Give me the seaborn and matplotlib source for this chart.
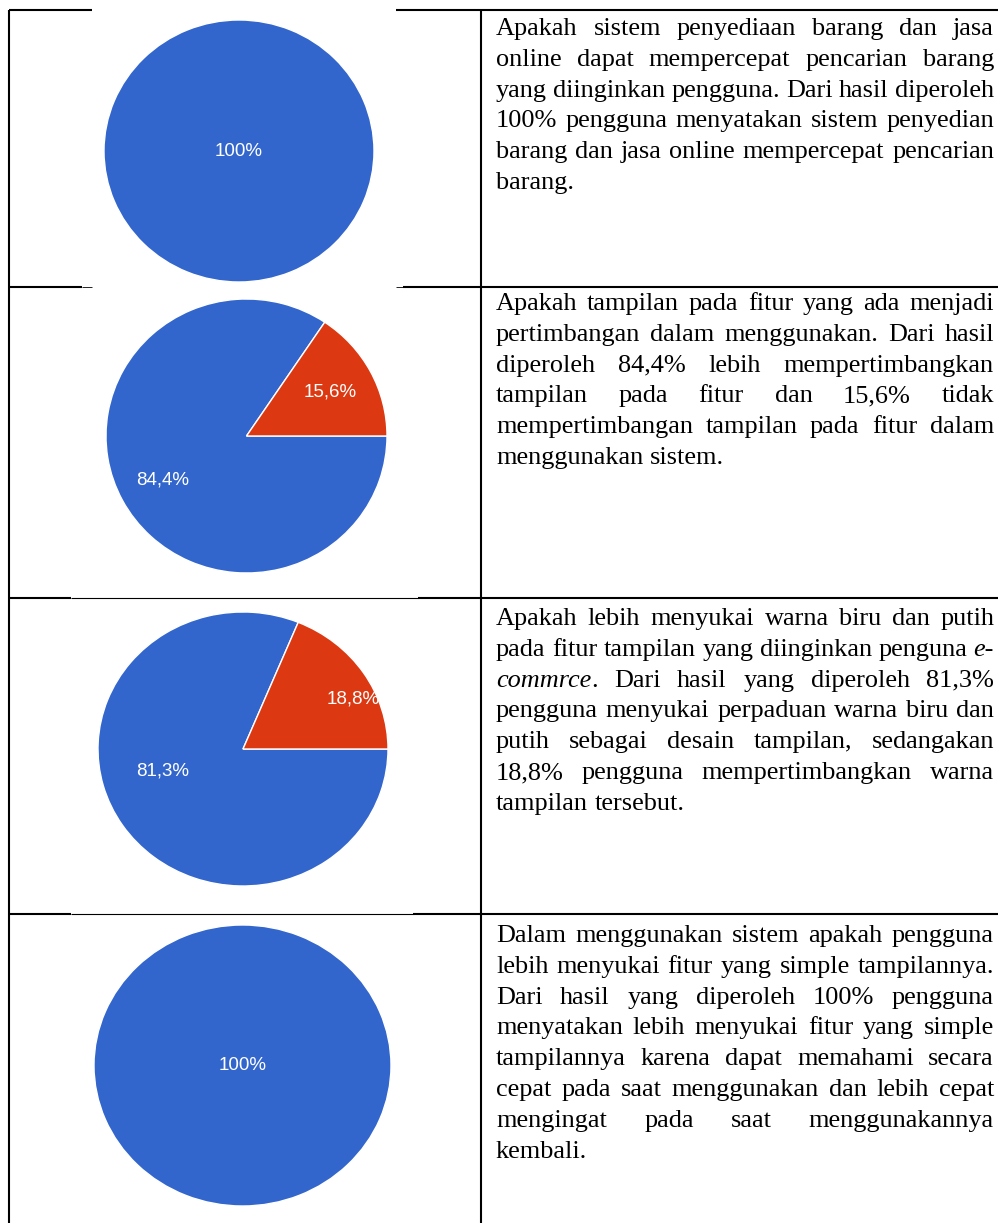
import re
import numpy as np
import matplotlib
matplotlib.use('Agg')
import matplotlib.pyplot as plt
import matplotlib.transforms as mtransforms
from matplotlib.lines import Line2D
import seaborn as sns

# data: jawaban kuesioner (persen)
q1_labels = ['Ya']
q1_values = [100]
q2_labels = ['Ya', 'Tidak']
q2_values = [84.4, 15.6]
q3_labels = ['Ya', 'Tidak']
q3_values = [81.3, 18.8]
q4_labels = ['Ya']
q4_values = [100]

# teks penjelasan tiap baris (baris sudah dipotong seperti di dokumen, _..._ = miring)
q1_text = [
    "Apakah sistem penyediaan barang dan jasa",
    "online dapat mempercepat pencarian barang",
    "yang diinginkan pengguna. Dari hasil diperoleh",
    "100% pengguna menyatakan sistem penyedian",
    "barang dan jasa online mempercepat pencarian",
    "barang.",
]
q2_text = [
    "Apakah tampilan pada fitur yang ada menjadi",
    "pertimbangan dalam menggunakan. Dari hasil",
    "diperoleh 84,4% lebih mempertimbangkan",
    "tampilan pada fitur dan 15,6% tidak",
    "mempertimbangan tampilan pada fitur dalam",
    "menggunakan sistem.",
]
q3_text = [
    "Apakah lebih menyukai warna biru dan putih",
    "pada fitur tampilan yang diinginkan penguna _e-_",
    "_commrce_. Dari hasil yang diperoleh 81,3%",
    "pengguna menyukai perpaduan warna biru dan",
    "putih sebagai desain tampilan, sedangakan",
    "18,8% pengguna mempertimbangkan warna",
    "tampilan tersebut.",
]
q4_text = [
    "Dalam menggunakan sistem apakah pengguna",
    "lebih menyukai fitur yang simple tampilannya.",
    "Dari hasil yang diperoleh 100% pengguna",
    "menyatakan lebih menyukai fitur yang simple",
    "tampilannya karena dapat memahami secara",
    "cepat pada saat menggunakan dan lebih cepat",
    "mengingat pada saat menggunakannya",
    "kembali.",
]

sns.set_theme(style='white')
plt.rcParams['font.family'] = ['Liberation Serif', 'DejaVu Serif']
colors = sns.color_palette(['#3366CC', '#DC3912'])

W, H = 998, 1223
fig = plt.figure(figsize=(W / 100, H / 100), dpi=100)
fig.patch.set_facecolor('white')
# koordinat piksel (y ke bawah)
px = mtransforms.Affine2D().scale(1 / W, -1 / H).translate(0, 1) + fig.transFigure
renderer = fig.canvas.get_renderer()

LW = 1.5


def hline(x0, x1, y, lw=LW):
    fig.add_artist(Line2D([x0, x1], [y, y], transform=px, color='black', lw=lw, solid_capstyle='butt'))


def vline(x, y0, y1, lw=LW):
    fig.add_artist(Line2D([x, x], [y0, y1], transform=px, color='black', lw=lw, solid_capstyle='butt'))


def fmt(v):
    return f"{v:g}%".replace('.', ',')


def draw_pie(labels, values, box, ld, label_pos=None):
    left, top, right, bottom = box
    ax = fig.add_axes([left / W, 1 - bottom / H, (right - left) / W, (bottom - top) / H])
    wedges, texts = ax.pie(values, colors=colors[:len(values)],
                           labels=[fmt(v) for v in values],
                           labeldistance=ld if len(values) > 1 else 0,
                           startangle=0, counterclock=False,
                           wedgeprops=dict(edgecolor='white', linewidth=1),
                           textprops=dict(color='white', fontsize=13.5, family='Liberation Sans'))
    for i, t in enumerate(texts):
        t.set_ha('center')
        t.set_va('center')
        if label_pos is not None:
            r, a = label_pos[i]
            t.set_position((r * np.cos(np.radians(a)), r * np.sin(np.radians(a))))
    ax.set_aspect('auto')
    ax.set_xlim(-1, 1)
    ax.set_ylim(-1, 1)
    ax.axis('off')


FS = 18.9
space_w = 0.25 * FS * 100 / 72


def parse(word):
    segs = []
    for part in re.split(r'(_[^_]+_)', word):
        if not part:
            continue
        if part.startswith('_') and part.endswith('_'):
            segs.append((part[1:-1], True))
        else:
            segs.append((part, False))
    return segs


def draw_paragraph(lines, x0, x1, y0, step=30.8):
    for i, line in enumerate(lines):
        items = []
        for word in line.split(' '):
            ts = []
            for txt, ital in parse(word):
                t = fig.text(0, 0, txt, transform=px, fontsize=FS, color='black',
                             style='italic' if ital else 'normal', ha='left', va='baseline')
                ts.append((t, t.get_window_extent(renderer).width))
            items.append(ts)
        widths = [sum(w for _, w in ts) for ts in items]
        last = i == len(lines) - 1
        if last or len(items) == 1:
            gap = space_w
        else:
            gap = (x1 - x0 - sum(widths)) / (len(items) - 1)
        x = x0
        y = y0 + i * step
        for ts, w in zip(items, widths):
            xx = x
            for t, tw in ts:
                t.set_position((xx, y))
                xx += tw
            x += w + gap


# garis tabel
vline(9, 10, H)
vline(481, 10, H)
hline(9, 92, 10)
hline(396, W, 10)
hline(9, 82, 287)
hline(82, 92, 287, lw=0.6)
hline(396, 403, 287, lw=0.6)
hline(403, W, 287)
hline(9, 71, 598)
hline(71, 418, 598, lw=0.8)
hline(418, W, 598)
hline(9, 71, 914)
hline(71, 413, 914, lw=0.8)
hline(413, W, 914)

# diagram lingkaran
draw_pie(q1_labels, q1_values, (104, 20, 374, 282), 0.675)
draw_pie(q2_labels, q2_values, (106, 299, 387, 573), 0.675)
draw_pie(q3_labels, q3_values, (98, 612, 388, 886), 0.72,
         label_pos=[(0.58, 196), (0.84, 25.7)])
draw_pie(q4_labels, q4_values, (94, 925, 391, 1206), 0.675)

# teks
draw_paragraph(q1_text, 496, 994, 35)
draw_paragraph(q2_text, 496, 994, 310)
draw_paragraph(q3_text, 496, 994, 625)
draw_paragraph(q4_text, 496, 994, 942)

fig.savefig('out.png', dpi=100)
